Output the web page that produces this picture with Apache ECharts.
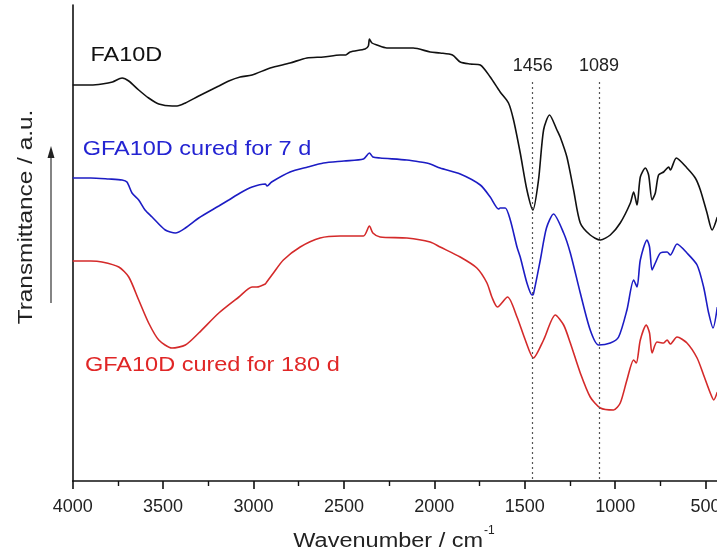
<!DOCTYPE html>
<html>
<head>
<meta charset="utf-8">
<script src="https://cdn.jsdelivr.net/npm/echarts@6/dist/echarts.min.js"></script>
<style>
html,body{margin:0;padding:0;background:#fff;}
#chart{width:717px;height:553px;}
</style>
</head>
<body>
<div id="chart"></div>
<script>
// ---- data (wavenumber in cm^-1, transmittance in arbitrary offset units) ----
const xTicks = [4000, 3500, 3000, 2500, 2000, 1500, 1000, 500];
const peakPositions = [1456, 1089];
const seriesNames = ['FA10D', 'GFA10D cured for 7 d', 'GFA10D cured for 180 d'];

const faX = [4000,3960,3900,3838,3780,3727,3690,3635,3580,3524,3450,3423,3377,3303,3192,3137,3074,3008,2908,2798,2705,2613,2521,2490,2466,2383,2365,2359,2345,2318,2263,2117,2023,1968,1900,1857,1802,1746,1691,1636,1590,1562,1525,1488,1455,1424,1396,1363,1322,1304,1267,1230,1193,1138,1082,1027,972,916,898,879,861,833,815,796,778,760,732,704,695,662,603,557,529,492,464,435];
const faY = [396,396,396,397,399,403,400,391,383,377,375,375,378,385,395,400,404,406,413,418,423,424,426,426,429,432,435,442,438,436,433,433,429,428,426,419,417,416,404,389,378,361,328,291,271,301,351,366,351,344,324,291,258,246,241,246,258,278,289,276,304,313,306,281,288,306,309,314,311,323,313,303,291,268,251,264];

const g7X = [4000,3900,3800,3727,3700,3672,3635,3600,3561,3488,3432,3377,3303,3192,3137,3074,3008,2935,2925,2900,2798,2700,2613,2500,2392,2359,2340,2300,2152,2078,2023,1968,1857,1746,1691,1645,1636,1608,1580,1543,1525,1488,1460,1452,1414,1380,1341,1285,1248,1193,1138,1092,1027,981,935,898,879,861,824,810,796,778,750,713,695,658,603,547,511,483,459,435];
const g7Y = [303,303,302,301,299,288,281,271,264,251,248,253,263,275,281,288,294,297,295,299,309,314,318,320,322,328,324,323,321,319,317,313,307,296,284,272,273,273,261,234,224,198,186,187,221,253,267,248,228,188,151,136,138,144,171,201,194,221,241,234,211,218,228,229,226,237,228,216,194,168,153,174];

const g180X = [4000,3900,3838,3745,3690,3635,3580,3524,3451,3377,3303,3192,3081,3008,2982,2935,2927,2890,2835,2742,2632,2521,2392,2359,2340,2300,2152,2023,1968,1857,1765,1709,1682,1651,1595,1543,1497,1452,1396,1331,1285,1248,1193,1138,1082,1009,972,935,898,883,861,828,810,796,769,732,713,695,658,603,547,511,474,455,435];
const g180Y = [220,220,219,214,204,181,158,141,133,136,148,168,184,194,194,197,199,208,221,234,243,245,245,255,248,244,243,239,234,224,213,198,184,174,184,164,141,123,141,166,156,138,108,84,73,71,78,101,121,118,141,156,148,128,139,138,141,137,144,138,123,106,88,81,89];

// ---- build ----
function zip(xs, ys){ return xs.map((x,i)=>[x, ys[i]]); }
const colors = ['#111111', '#1c1cc4', '#d42a2a'];
const labelColors = ['#111111', '#2424d2', '#e02626'];
const TXT = 'Liberation Sans, Arial, sans-serif';
const SX = 1.175;
const SMOOTH = 0.25;

const chart = echarts.init(document.getElementById('chart'), null, {renderer:'canvas'});
const option = {
  animation: false,
  backgroundColor: '#ffffff',
  grid: {left: 72.7, top: 5, right: -79, bottom: 72, containLabel: false, outerBoundsMode: 'none'},
  xAxis: {
    type: 'value', inverse: true, min: 0, max: 4000, interval: 500,
    axisLine: {show: true, lineStyle: {color: '#111', width: 1.6}},
    axisTick: {show: true, inside: false, length: 8, lineStyle: {color: '#111', width: 1.6}},
    minorTick: {show: true, splitNumber: 2, length: 5, lineStyle: {color: '#111', width: 1.4}},
    axisLabel: {show: true, fontSize: 18, fontFamily: TXT, color: '#222', margin: 17,
      formatter: v => xTicks.indexOf(v) >= 0 ? String(v) : ''},
    splitLine: {show: false}
  },
  yAxis: {
    type: 'value', min: 0, max: 476,
    axisLine: {show: true, onZero: false, lineStyle: {color: '#111', width: 1.6}},
    axisTick: {show: false}, axisLabel: {show: false}, splitLine: {show: false}
  },
  series: [
    {name: seriesNames[0], type: 'line', data: zip(faX, faY), showSymbol: false, symbol: 'none',
     smooth: SMOOTH, lineStyle: {color: colors[0], width: 1.6}, silent: true,
     markLine: {
       silent: true, symbol: ['none','none'],
       lineStyle: {color: '#555', width: 1.2, type: [2, 3]},
       label: {show: true, position: 'start', distance: 7, fontSize: 18, fontFamily: TXT, color: '#222',
               formatter: p => String(p.data.coord ? p.data.coord[0] : p.value)},
       data: peakPositions.map(p => [{coord: [p, 399], name: String(p)}, {coord: [p, 0]}])
     }},
    {name: seriesNames[1], type: 'line', data: zip(g7X, g7Y), showSymbol: false, symbol: 'none',
     smooth: SMOOTH, lineStyle: {color: colors[1], width: 1.6}, silent: true},
    {name: seriesNames[2], type: 'line', data: zip(g180X, g180Y), showSymbol: false, symbol: 'none',
     smooth: SMOOTH, lineStyle: {color: colors[2], width: 1.6}, silent: true}
  ],
  graphic: [
    {type: 'text', x: 90.5, y: 55.6, scaleX: SX, silent: true,
     style: {text: seriesNames[0], font: '20px ' + TXT, fill: labelColors[0], align: 'left', verticalAlign: 'middle'}},
    {type: 'text', x: 82.7, y: 149, scaleX: SX, silent: true,
     style: {text: seriesNames[1], font: '20px ' + TXT, fill: labelColors[1], align: 'left', verticalAlign: 'middle'}},
    {type: 'text', x: 85, y: 365, scaleX: SX, silent: true,
     style: {text: seriesNames[2], font: '20px ' + TXT, fill: labelColors[2], align: 'left', verticalAlign: 'middle'}},
    {type: 'text', x: 26, y: 217, rotation: Math.PI / 2, scaleX: 1.22, silent: true,
     style: {text: 'Transmittance / a.u.', font: '20px ' + TXT, fill: '#222', align: 'center', verticalAlign: 'middle'}},
    {type: 'text', x: 293.3, y: 541, scaleX: SX, silent: true,
     style: {text: 'Wavenumber / cm', font: '20px ' + TXT, fill: '#222', align: 'left', verticalAlign: 'middle'}},
    {type: 'text', x: 484, y: 531, silent: true,
     style: {text: '-1', font: '12px ' + TXT, fill: '#222', align: 'left', verticalAlign: 'middle'}},
    {type: 'line', silent: true, shape: {x1: 51, y1: 303, x2: 51, y2: 154},
     style: {stroke: '#333', lineWidth: 1.2}},
    {type: 'polygon', silent: true, shape: {points: [[51, 146], [47.5, 158], [54.5, 158]]},
     style: {fill: '#222'}}
  ]
};
chart.setOption(option);
</script>
</body>
</html>
